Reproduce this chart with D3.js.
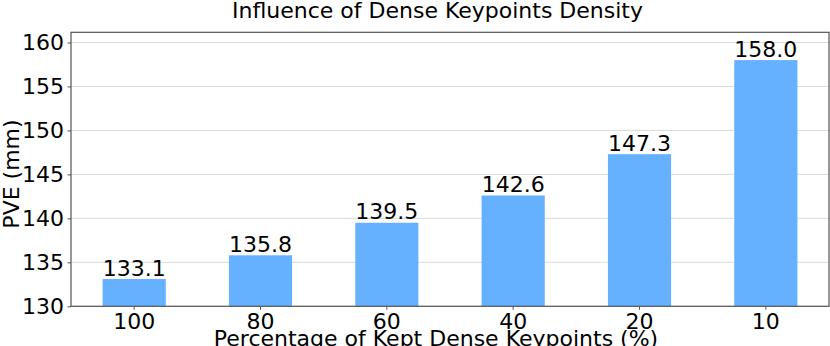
<!DOCTYPE html>
<html>
<head>
<meta charset="utf-8">
<script src="https://cdn.jsdelivr.net/npm/d3@7"></script>
<style>
  body { margin: 0; background: #fff; }
  text { font-family: "DejaVu Sans", sans-serif; fill: #000; }
</style>
</head>
<body>
<div id="main"></div>
<script>
// data
const categories = ["100", "80", "60", "40", "20", "10"];
const pveValues = [133.1, 135.8, 139.5, 142.6, 147.3, 158.0];
const yTicks = [130, 135, 140, 145, 150, 155, 160];

// dimensions
const svg_width = 830,
    svg_height = 346;
const margin = {top: 32.3, right: 1, bottom: 39.7, left: 71};
const graph_width = svg_width - margin.left - margin.right,
    graph_height = svg_height - margin.top - margin.bottom;
const fontSize = "22px";

var svgRoot = d3.select("#main").append("svg")
    .attr("width", svg_width)
    .attr("height", svg_height);

var svg = svgRoot.append("g")
    .attr("transform", `translate(${margin.left}, ${margin.top})`);

// scales
var xScale = d3.scaleBand()
    .domain(categories)
    .range([0, graph_width])
    .paddingInner(0.5)
    .paddingOuter(0.25);
var yScale = d3.scaleLinear()
    .domain([130, 161.16])
    .range([graph_height, 0]);

// grid lines
svg.append("g")
    .selectAll("line")
    .data(yTicks)
    .enter()
    .append("line")
    .attr("x1", 0)
    .attr("x2", graph_width)
    .attr("y1", d => yScale(d))
    .attr("y2", d => yScale(d))
    .attr("stroke", "#dadada")
    .attr("stroke-width", 1);

// bars
svg.selectAll(".bar")
    .data(pveValues)
    .enter()
    .append("rect")
    .attr("class", "bar")
    .attr("x", (d, i) => xScale(categories[i]))
    .attr("width", xScale.bandwidth())
    .attr("y", d => yScale(d))
    .attr("height", d => graph_height - yScale(d))
    .attr("fill", "#66b1ff");

// value labels
svg.selectAll(".val")
    .data(pveValues)
    .enter()
    .append("text")
    .attr("class", "val")
    .attr("x", (d, i) => xScale(categories[i]) + xScale.bandwidth() / 2)
    .attr("y", d => yScale(d) - 3.3)
    .attr("text-anchor", "middle")
    .style("font-size", fontSize)
    .text(d => d.toFixed(1));

// axes
var xAxis = svg.append("g")
    .attr("transform", `translate(0, ${graph_height})`)
    .call(d3.axisBottom(xScale).tickSize(3.5).tickPadding(3.2));
var yAxis = svg.append("g")
    .call(d3.axisLeft(yScale).tickValues(yTicks).tickSize(3.5).tickPadding(3.5));
[xAxis, yAxis].forEach(function (a) {
    a.select(".domain").remove();
    a.selectAll("line").attr("stroke", "#555");
    a.selectAll("text").style("font-size", fontSize).style("font-family", "DejaVu Sans");
});

// frame
svg.append("rect")
    .attr("x", 0)
    .attr("y", 0)
    .attr("width", graph_width)
    .attr("height", graph_height)
    .attr("fill", "none")
    .attr("stroke", "#555")
    .attr("stroke-width", 1.2);

// title
svgRoot.append("text")
    .attr("x", margin.left + graph_width / 2 - 12.5)
    .attr("y", 17.7)
    .attr("text-anchor", "middle")
    .style("font-size", fontSize)
    .text("Influence of Dense Keypoints Density");

// axis labels
svgRoot.append("text")
    .attr("x", margin.left + graph_width / 2 - 14)
    .attr("y", 345.5)
    .attr("text-anchor", "middle")
    .style("font-size", fontSize)
    .text("Percentage of Kept Dense Keypoints (%)");
svgRoot.append("text")
    .attr("transform", `translate(18.5, 174) rotate(-90)`)
    .attr("text-anchor", "middle")
    .style("font-size", fontSize)
    .text("PVE (mm)");
</script>
</body>
</html>
